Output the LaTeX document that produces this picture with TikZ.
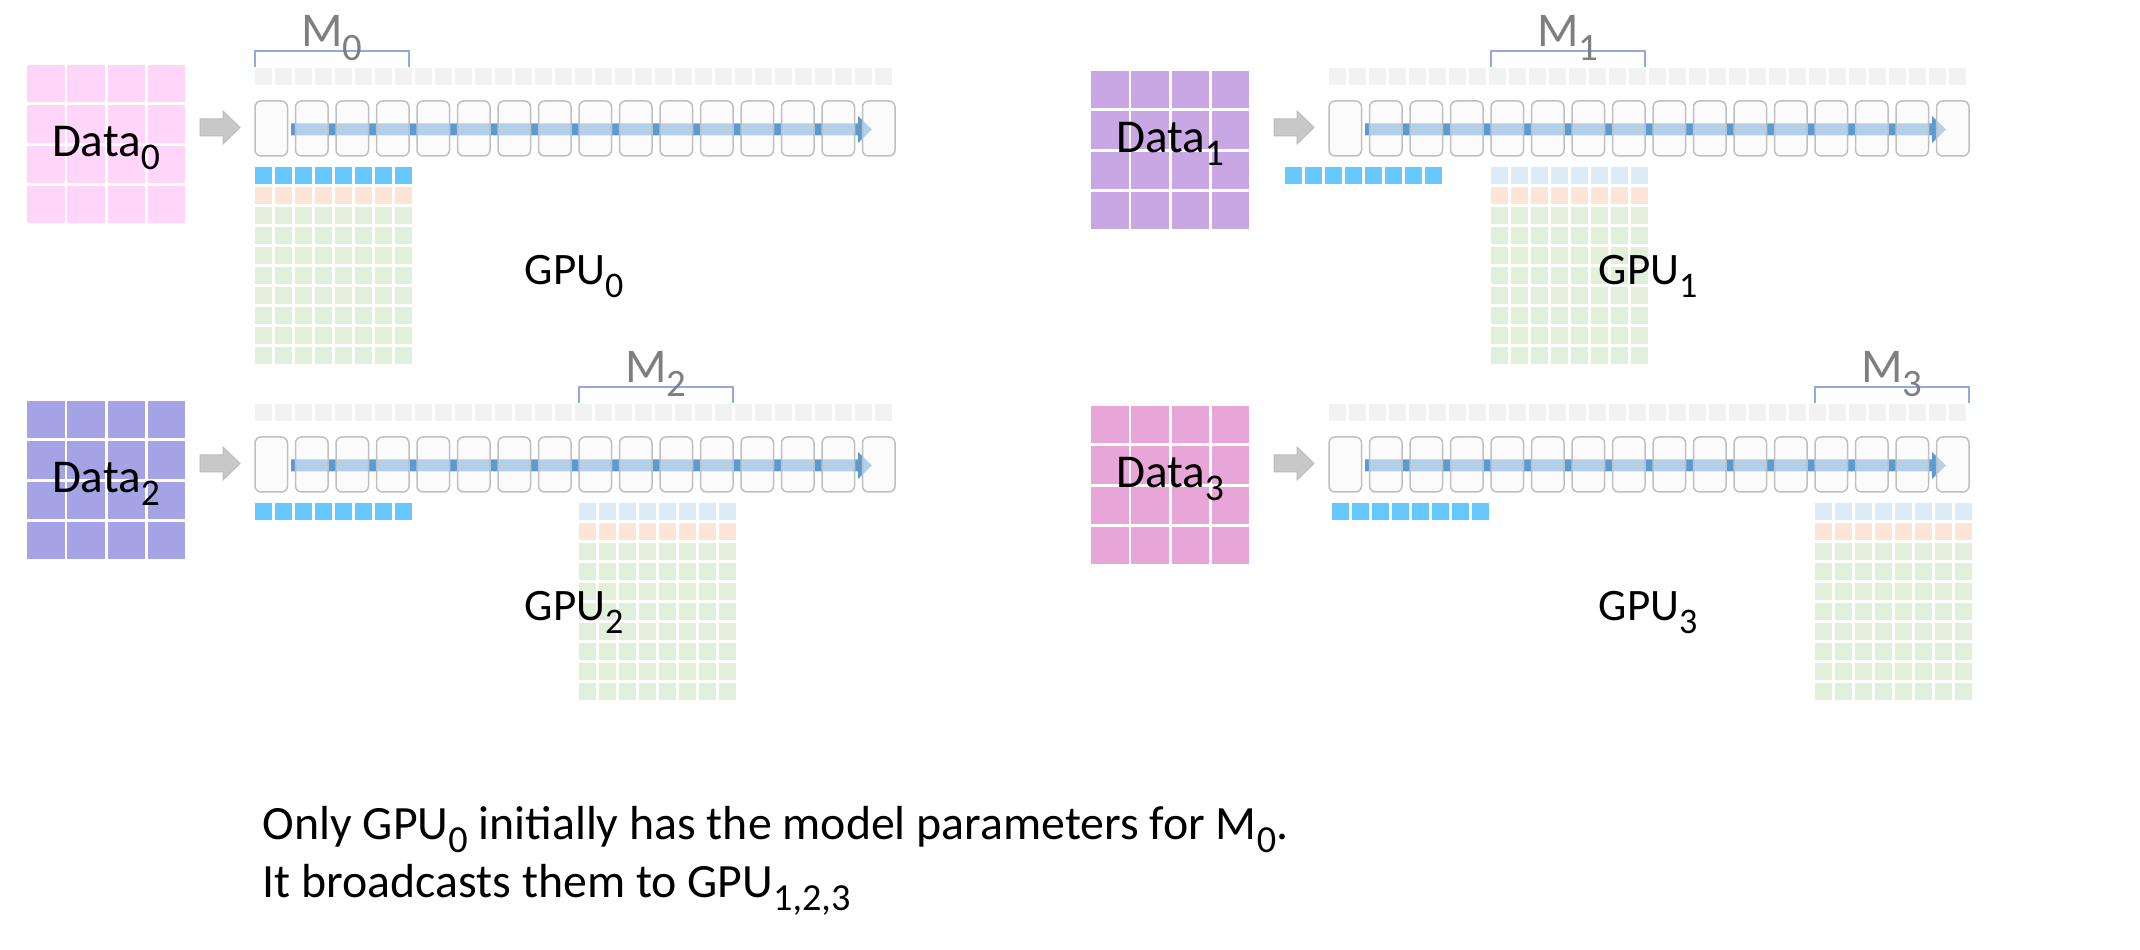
\documentclass[tikz,border=0pt]{standalone}
\usepackage{fontspec}
\setmainfont{Carlito}
\usepackage{graphicx}
\usepackage{tikz}
\usetikzlibrary{positioning}

\definecolor{datazero}{RGB}{255,214,250}
\definecolor{dataone}{RGB}{201,166,228}
\definecolor{datatwo}{RGB}{163,163,230}
\definecolor{datathree}{RGB}{232,166,216}
\definecolor{flowblue}{RGB}{91,155,213}
\definecolor{paramblue}{RGB}{102,200,255}
\definecolor{paramfade}{RGB}{221,235,247}
\definecolor{gradpeach}{RGB}{252,228,214}
\definecolor{optgreen}{RGB}{226,239,218}
\definecolor{slotgray}{RGB}{242,242,242}
\definecolor{shardblue}{RGB}{143,170,220}
\definecolor{shardgray}{RGB}{127,127,127}

\newcommand\lo[1]{\raisebox{-0.27em}{\scalebox{0.8}{#1}}}

% one GPU: shift, data colour, index, data x, data y, data baseline, param row x
\newcommand\gpupanel[7]{%
  \begin{scope}[shift={#1}]
    \pgfmathsetmacro\mx{255+162*#3}
    \foreach \c in {0,...,3}
      \foreach \r in {0,...,3}
        \fill[#2] ({#4+40.3*\c},{#5+40.3*\r}) rectangle +(37.5,37.5);
    \node[datalabel, anchor=base] (data#3) at ({#4+79},#6) {Data\lo{#3}};
    \filldraw[feed] (200,119) -- (223,119) -- (223,111) -- (240,127.5)
      -- (223,144) -- (223,136) -- (200,136) -- cycle;
    \foreach \k in {0,...,31}
      \fill[slotgray] ({255+20*\k},68) rectangle +(17,17);
    \fill[flowblue] (291,123.5) -- (858,123.5) -- (858,116) -- (872,129.5)
      -- (858,143) -- (858,135.5) -- (291,135.5) -- cycle;
    \foreach \k in {0,...,15}
      \node[layer] (layer#3-\k) at ({271.25+40.5*\k},128.5) {};
    \foreach \k in {0,...,7}
    {
      \fill[paramfade] ({\mx+20*\k},167) rectangle +(17,17);
      \fill[gradpeach] ({\mx+20*\k},187) rectangle +(17,17);
      \foreach \r in {0,...,7}
        \fill[optgreen] ({\mx+20*\k},{207+20*\r}) rectangle +(17,17);
      \fill[paramblue] ({#7+20*\k},167) rectangle +(17,17);
    }
    \draw[shard] ({\mx},67) -- ({\mx},51) -- ({\mx+154},51) -- ({\mx+154},67);
    \node[shardlabel, anchor=base] (shard#3) at ({\mx+77},47) {M\lo{#3}};
    \node[gpulabel, anchor=base west] (gpu#3) at (524,285) {GPU\lo{#3}};
  \end{scope}}

\begin{document}
\begin{tikzpicture}
 [ x=0.1mm, y=-0.1mm
 , layer/.style={rectangle, rounded corners=0.6mm, inner sep=0pt,
     minimum width=3.25mm, minimum height=5.5mm, line width=0.15mm,
     draw={rgb,255:red,191;green,191;blue,191},
     fill={rgb,255:red,248;green,248;blue,248}, fill opacity=0.57}
 , feed/.style={fill={rgb,255:red,200;green,200;blue,200},
     draw={rgb,255:red,188;green,188;blue,188}, line width=0.1mm}
 , shard/.style={draw=shardblue, line width=0.13mm}
 , shardlabel/.style={text=shardgray, font=\fontsize{13.8}{16}\selectfont, inner sep=0pt}
 , datalabel/.style={font=\fontsize{13.4}{15}\selectfont, inner sep=0pt}
 , gpulabel/.style={font=\fontsize{12.8}{15}\selectfont, inner sep=0pt}
 , note/.style={font=\fontsize{13.6}{16}\selectfont, inner sep=0pt}
 ]
  \useasboundingbox (0,0) rectangle (2140,950);

  \gpupanel{(0,0)}{datazero}{0}{27}{65}{157}{255}
  \gpupanel{(1074,0)}{dataone}{1}{17}{71}{153}{211}
  \gpupanel{(0,336)}{datatwo}{2}{27}{65}{157}{255}
  \gpupanel{(1074,336)}{datathree}{3}{17}{70}{152}{258}

  \node[note, anchor=base west] (note1) at (262,840)
    {Only GPU\lo{0} initially has the model parameters for M\lo{0}.};
  \node[note, anchor=base west] (note2) at (262,898)
    {It broadcasts them to GPU\lo{1,2,3}};
\end{tikzpicture}
\end{document}
